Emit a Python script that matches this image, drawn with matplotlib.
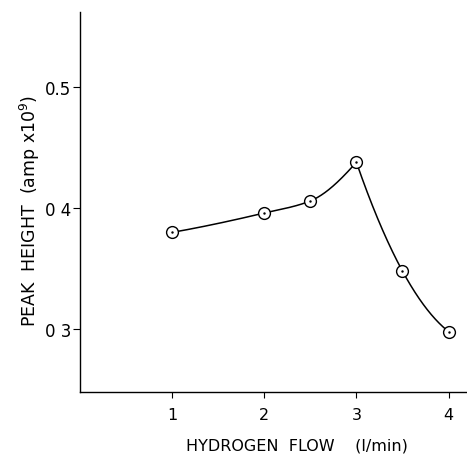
import numpy as np
import matplotlib
matplotlib.use("Agg")
import matplotlib.pyplot as plt

flow = [1.0, 2.0, 2.5, 3.0, 3.5, 4.0]
peak = [0.380, 0.396, 0.406, 0.438, 0.348, 0.298]
xticks = [1, 2, 3, 4]
yticks = [0.3, 0.4, 0.5]
ytick_labels = ["0 3", "0 4", "0.5"]


def pchip(x, y, xs):
    x = np.asarray(x, float); y = np.asarray(y, float)
    h = np.diff(x); d = np.diff(y) / h
    n = len(x); m = np.zeros(n)
    for k in range(1, n - 1):
        if d[k - 1] * d[k] > 0:
            w1 = 2 * h[k] + h[k - 1]; w2 = h[k] + 2 * h[k - 1]
            m[k] = (w1 + w2) / (w1 / d[k - 1] + w2 / d[k])
    def end(h0, h1, d0, d1):
        v = ((2 * h0 + h1) * d0 - h0 * d1) / (h0 + h1)
        if np.sign(v) != np.sign(d0):
            v = 0.0
        elif np.sign(d0) != np.sign(d1) and abs(v) > abs(3 * d0):
            v = 3 * d0
        return v
    m[0] = end(h[0], h[1], d[0], d[1])
    m[-1] = end(h[-1], h[-2], d[-1], d[-2])
    idx = np.clip(np.searchsorted(x, xs) - 1, 0, n - 2)
    t = (xs - x[idx]) / h[idx]
    h00 = 2 * t**3 - 3 * t**2 + 1; h10 = t**3 - 2 * t**2 + t
    h01 = -2 * t**3 + 3 * t**2; h11 = t**3 - t**2
    return h00 * y[idx] + h10 * h[idx] * m[idx] + h01 * y[idx + 1] + h11 * h[idx] * m[idx + 1]


plt.rcParams['font.family'] = ['DejaVu Sans']
fig = plt.figure(figsize=(4.67, 4.56), dpi=100)
ax = fig.add_axes([0.171, 0.138, 0.829, 0.833])

# rising branch up to the peak, falling branch after it
xs_l = np.linspace(flow[0], flow[3], 300)
ax.plot(xs_l, pchip(flow[:4], peak[:4], xs_l), color='black', lw=1.1)
xs_r = np.linspace(flow[3], flow[5], 300)
c_r = np.polyfit(flow[3:], peak[3:], 2)
ax.plot(xs_r, np.polyval(c_r, xs_r), color='black', lw=1.1)

ax.plot(flow, peak, 'o', ms=8.5, mfc='white', mec='black', mew=1.0, zorder=3)
ax.plot(flow, peak, '.', ms=1.5, color='black', zorder=4)

ax.set_xlim(0.0, 4.2)
ax.set_ylim(0.248, 0.562)
ax.set_xticks(xticks)
ax.set_xticklabels([str(t) for t in xticks])
ax.set_yticks(yticks)
ax.set_yticklabels(ytick_labels)
for s in ['top', 'right']:
    ax.spines[s].set_visible(False)
for s in ['left', 'bottom']:
    ax.spines[s].set_linewidth(1.0)
ax.tick_params(axis='y', direction='out', length=5, width=0.8, labelsize=12, pad=1)
ax.tick_params(axis='x', direction='out', length=4, width=0.8, labelsize=11.5, pad=7)
ax.set_xlabel("HYDROGEN  FLOW    (l/min)", fontsize=11.5)
ax.set_ylabel("PEAK  HEIGHT  (amp x10$^9$)", fontsize=12.5)
ax.xaxis.set_label_coords(0.56, -0.12)
ax.yaxis.set_label_coords(-0.098, 0.48)

fig.savefig("out.png", dpi=100)
